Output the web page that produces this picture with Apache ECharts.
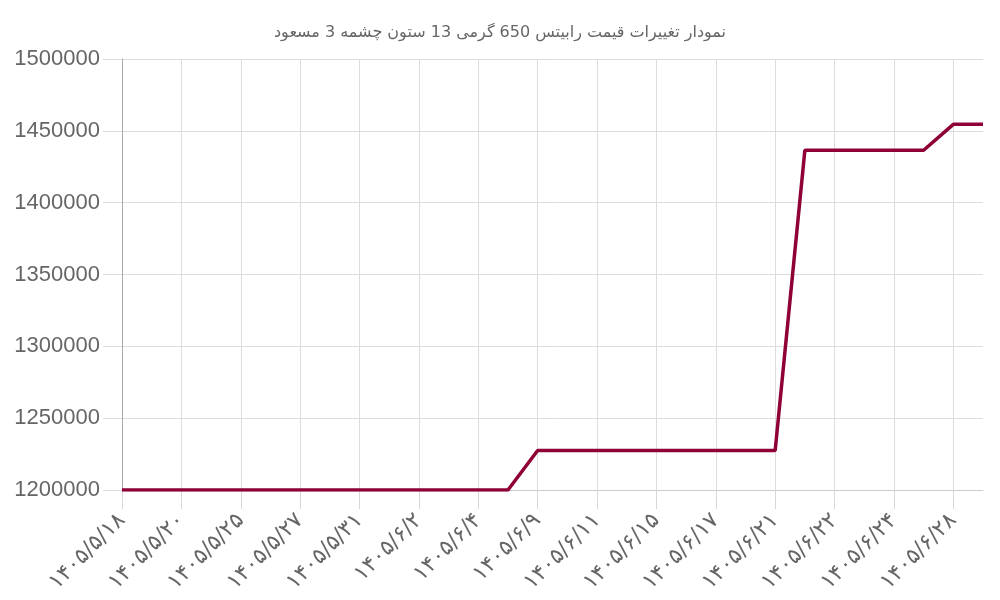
<!DOCTYPE html>
<html>
<head>
<meta charset="utf-8">
<script src="https://cdn.jsdelivr.net/npm/echarts@6/dist/echarts.min.js"></script>
<style>
  html, body { margin: 0; padding: 0; background: #fff; }
  #main { width: 1000px; height: 600px; }
</style>
</head>
<body>
<div id="main"></div>
<script>
// dates (jalali) and prices
let dates = [
    '۱۴۰۵/۵/۱۸', '۱۴۰۵/۵/۱۹', '۱۴۰۵/۵/۲۰', '۱۴۰۵/۵/۲۲', '۱۴۰۵/۵/۲۵',
    '۱۴۰۵/۵/۲۶', '۱۴۰۵/۵/۲۷', '۱۴۰۵/۵/۲۹', '۱۴۰۵/۵/۳۱', '۱۴۰۵/۶/۱',
    '۱۴۰۵/۶/۲', '۱۴۰۵/۶/۳', '۱۴۰۵/۶/۴', '۱۴۰۵/۶/۸', '۱۴۰۵/۶/۹',
    '۱۴۰۵/۶/۱۰', '۱۴۰۵/۶/۱۱', '۱۴۰۵/۶/۱۲', '۱۴۰۵/۶/۱۵', '۱۴۰۵/۶/۱۶',
    '۱۴۰۵/۶/۱۷', '۱۴۰۵/۶/۱۸', '۱۴۰۵/۶/۲۱', '۱۴۰۵/۶/۲۲', '۱۴۰۵/۶/۲۲',
    '۱۴۰۵/۶/۲۳', '۱۴۰۵/۶/۲۴', '۱۴۰۵/۶/۲۵', '۱۴۰۵/۶/۲۸', '۱۴۰۵/۶/۲۹'
];
let prices = [
    1200000, 1200000, 1200000, 1200000, 1200000,
    1200000, 1200000, 1200000, 1200000, 1200000,
    1200000, 1200000, 1200000, 1200000, 1227500,
    1227500, 1227500, 1227500, 1227500, 1227500,
    1227500, 1227500, 1227500, 1436500, 1436500,
    1436500, 1436500, 1436500, 1454500, 1454500
];
let chartTitle = 'نمودار تغییرات قیمت رابیتس 650 گرمی 13 ستون چشمه 3 مسعود';

var myChart = echarts.init(document.getElementById('main'));

var option = {
    animation: false,
    title: {
        text: chartTitle,
        left: 'center',
        top: 20,
        textStyle: {
            fontFamily: 'DejaVu Sans',
            fontSize: 16,
            fontWeight: 'normal',
            color: '#666'
        }
    },
    grid: {
        left: 122,
        right: 17,
        top: 59,
        bottom: 110
    },
    xAxis: {
        type: 'category',
        data: dates,
        boundaryGap: false,
        axisLine: { lineStyle: { color: '#ccc' } },
        axisTick: { show: true, length: 19, interval: 1, lineStyle: { color: '#d8d8d8' } },
        splitLine: { show: true, interval: 1, lineStyle: { color: '#ddd' } },
        axisLabel: {
            interval: 1,
            rotate: 45,
            margin: 27,
            fontSize: 22,
            color: '#666',
            fontFamily: 'DejaVu Sans'
        }
    },
    yAxis: {
        type: 'value',
        min: 1200000,
        max: 1500000,
        interval: 50000,
        axisLine: { show: true, lineStyle: { color: '#aaa' } },
        axisTick: { show: true, length: 19, lineStyle: { color: '#ddd' } },
        splitLine: { lineStyle: { color: '#ddd' } },
        axisLabel: {
            margin: 22,
            fontSize: 22,
            color: '#666',
            fontFamily: 'Liberation Sans',
            formatter: function (v) { return String(v); }
        }
    },
    series: [{
        type: 'line',
        data: prices,
        showSymbol: false,
        lineStyle: { color: '#8f0036', width: 3.5 },
        itemStyle: { color: '#8f0036' }
    }]
};

myChart.setOption(option);
</script>
</body>
</html>
